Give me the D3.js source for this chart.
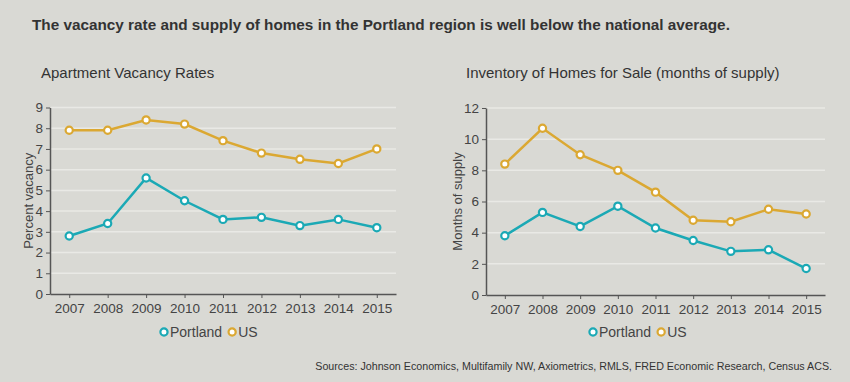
<!DOCTYPE html>
<html><head><meta charset="utf-8">
<script src="https://cdn.jsdelivr.net/npm/d3@7"></script>
<style>
body{margin:0;background:#d9d9d4;}
svg{display:block;font-family:"Liberation Sans",Arial,sans-serif;}
</style></head><body>
<svg id="c" width="850" height="382"></svg>
<script>
const years = ["2007","2008","2009","2010","2011","2012","2013","2014","2015"];
const vacancyPortland = [2.8,3.4,5.6,4.5,3.6,3.7,3.3,3.6,3.2];
const vacancyUS = [7.9,7.9,8.4,8.2,7.4,6.8,6.5,6.3,7.0];
const supplyPortland = [3.8,5.3,4.4,5.7,4.3,3.5,2.8,2.9,1.7];
const supplyUS = [8.4,10.7,9.0,8.0,6.6,4.8,4.7,5.5,5.2];
const vacancyTicks = [0,1,2,3,4,5,6,7,8,9];
const supplyTicks = [0,2,4,6,8,10,12];
const seriesNames = ["Portland","US"];
const colors = {Portland:"#1ba9b5", US:"#dba832"};

const svg = d3.select("#c");
svg.append("rect").attr("width",850).attr("height",382).attr("fill","#d9d9d4");
svg.append("text").attr("x",32).attr("y",30).attr("font-size",15.3).attr("font-weight","bold")
  .attr("fill","#333").text("The vacancy rate and supply of homes in the Portland region is well below the national average.");
svg.append("text").attr("x",832).attr("y",370).attr("text-anchor","end").attr("font-size",10.7)
  .attr("fill","#333").text("Sources: Johnson Economics, Multifamily NW, Axiometrics, RMLS, FRED Economic Research, Census ACS.");

function chart(cfg){
  const g = svg.append("g");
  g.append("text").attr("x",cfg.titleX).attr("y",78).attr("font-size",15).attr("fill","#333").text(cfg.title);
  const x = d3.scalePoint().domain(years).range([cfg.x0,cfg.x1]).padding(0.5);
  const y = d3.scaleLinear().domain([0,d3.max(cfg.ticks)]).range([cfg.yb,cfg.yt]);
  g.append("g").selectAll("line").data(cfg.ticks.slice(1)).join("line")
    .attr("x1",cfg.x0+1).attr("x2",cfg.x1).attr("y1",d=>y(d)).attr("y2",d=>y(d))
    .attr("stroke","#e9e9e5").attr("stroke-width",1.5);
  const ya = g.append("g").attr("transform",`translate(${cfg.x0},0)`)
    .call(d3.axisLeft(y).tickValues(cfg.ticks).tickSize(4).tickPadding(3).tickSizeOuter(0));
  const xa = g.append("g").attr("transform",`translate(0,${cfg.yb})`)
    .call(d3.axisBottom(x).tickSize(4).tickPadding(5).tickSizeOuter(0));
  [ya,xa].forEach(a=>{
    a.select(".domain").attr("stroke","#555").attr("stroke-width",1.5);
    a.selectAll(".tick line").attr("stroke","#555");
    a.selectAll(".tick text").attr("fill","#444").attr("font-size",13.5).attr("font-family","Liberation Sans, Arial, sans-serif");
  });
  g.append("text").attr("transform",`translate(${cfg.labelX},${(cfg.yb+cfg.yt)/2}) rotate(-90)`)
    .attr("text-anchor","middle").attr("font-size",13).attr("fill","#444").text(cfg.ylabel);
  const line = d3.line().x((d,i)=>x(years[i])).y(d=>y(d));
  cfg.series.forEach(s=>{
    g.append("path").datum(s.values).attr("d",line).attr("fill","none")
      .attr("stroke",colors[s.name]).attr("stroke-width",2.5);
    g.append("g").selectAll("circle").data(s.values).join("circle")
      .attr("cx",(d,i)=>x(years[i])).attr("cy",d=>y(d)).attr("r",3.6)
      .attr("fill","#fff").attr("stroke",colors[s.name]).attr("stroke-width",2.2);
  });
  const lg = g.append("g");
  let lx = cfg.legendX;
  seriesNames.forEach(n=>{
    lg.append("circle").attr("cx",lx).attr("cy",332).attr("r",3.6).attr("fill","#fff")
      .attr("stroke",colors[n]).attr("stroke-width",2.2);
    const t = lg.append("text").attr("x",lx+6).attr("y",337).attr("font-size",14).attr("fill","#444").text(n);
    lx += t.node().getComputedTextLength() + 16;
  });
}

chart({title:"Apartment Vacancy Rates", titleX:41, x0:50, x1:396, yb:294, yt:107.5,
  ticks:vacancyTicks, ylabel:"Percent vacancy", labelX:33, legendX:164,
  series:[{name:"Portland",values:vacancyPortland},{name:"US",values:vacancyUS}]});
chart({title:"Inventory of Homes for Sale (months of supply)", titleX:466, x0:486, x1:825, yb:295, yt:108,
  ticks:supplyTicks, ylabel:"Months of supply", labelX:462, legendX:593,
  series:[{name:"Portland",values:supplyPortland},{name:"US",values:supplyUS}]});
</script></body></html>
